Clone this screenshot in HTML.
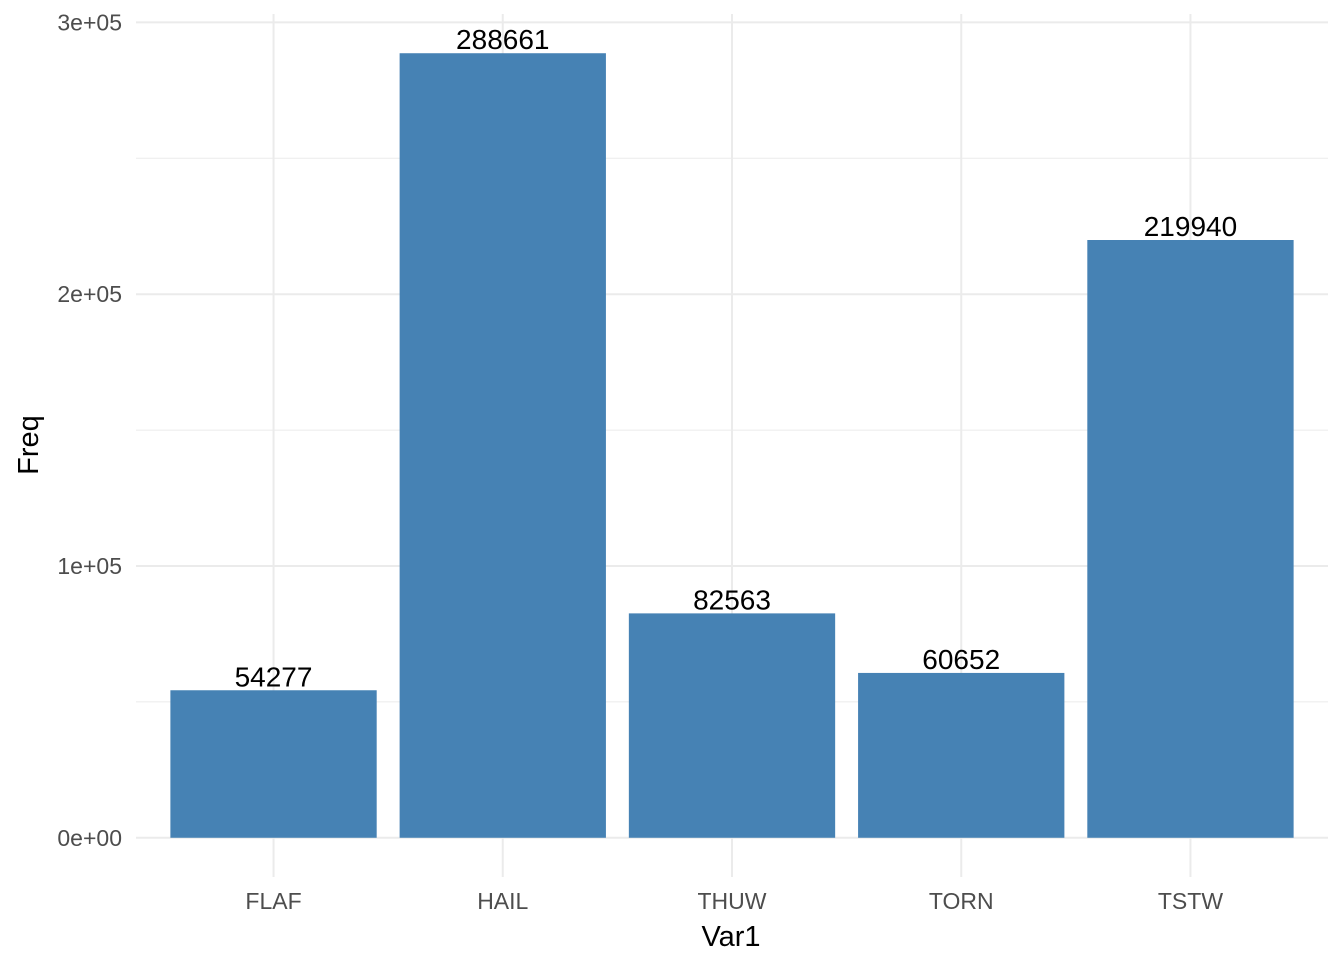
<!DOCTYPE html>
<html><head><meta charset="utf-8"><style>
html,body{margin:0;padding:0;background:#fff;}
svg{display:block;font-family:"Liberation Sans",Arial,sans-serif;}
</style></head><body>
<svg id="chart" width="1344" height="960" viewBox="0 0 1344 960">
<g id="grid"></g>
<g id="bars"></g>
<g id="labels"></g>
<g id="yticks"></g>
<g id="xticks"></g>
<text x="731" y="946" text-anchor="middle" font-size="29" fill="#000">Var1</text>
<text transform="translate(38,445) rotate(-90)" text-anchor="middle" font-size="29" fill="#000">Freq</text>
</svg>
<script>
const categories = ["FLAF","HAIL","THUW","TORN","TSTW"];
const values = [54277,288661,82563,60652,219940];
const yTicks = [0,100000,200000,300000];
const yTickLabels = ["0e+00","1e+05","2e+05","3e+05"];
const yMinor = [50000,150000,250000];

const ns="http://www.w3.org/2000/svg";
const panelL=136, panelR=1328, panelT=14, panelB=877;
const maxV=Math.max(...values), pad=maxV*0.05;
const yMin=-pad, yMax=maxV+pad;
function y(v){return panelB-(v-yMin)/(yMax-yMin)*(panelB-panelT);}
const n=categories.length, step=(panelR-panelL)/(n-1+1.2);
function x(i){return panelL+step*(0.6+i);}
const bw=step*0.9;
function mk(tag,attrs,parent){const e=document.createElementNS(ns,tag);for(const k in attrs)e.setAttribute(k,attrs[k]);parent.appendChild(e);return e;}
const grid=document.getElementById('grid');
yMinor.forEach(v=>{
  const l=mk('line',{x1:panelL,x2:panelR,y1:y(v),y2:y(v),stroke:'#ebebeb','stroke-width':1},grid);
  
  
});
yTicks.forEach(v=>{
  const l=mk('line',{x1:panelL,x2:panelR,y1:y(v),y2:y(v),stroke:'#ebebeb','stroke-width':2},grid);
  
  
});
categories.forEach((c,i)=>{
  const l=mk('line',{x1:x(i),x2:x(i),y1:panelT,y2:panelB,stroke:'#ebebeb','stroke-width':2},grid);
  
  
});
const bars=document.getElementById('bars'), labels=document.getElementById('labels'), xt=document.getElementById('xticks'), yt=document.getElementById('yticks');
values.forEach((v,i)=>{
  const r=mk('rect',{x:x(i)-bw/2,y:y(v),width:bw,height:y(0)-y(v),fill:'#4682b4'},bars);
  
  
  const t=mk('text',{x:x(i),y:y(v)-4,'text-anchor':'middle','font-size':28,fill:'#000'},labels);
  t.textContent=v;
  
  
  const xl=mk('text',{x:x(i),y:909,'text-anchor':'middle','font-size':23,fill:'#4d4d4d'},xt);
  xl.textContent=categories[i];
  
  
});
yTicks.forEach((v,i)=>{
  const t=mk('text',{x:122,y:y(v)+8,'text-anchor':'end','font-size':23,fill:'#4d4d4d'},yt);
  t.textContent=yTickLabels[i];
  
  
});
</script>
</body></html>
